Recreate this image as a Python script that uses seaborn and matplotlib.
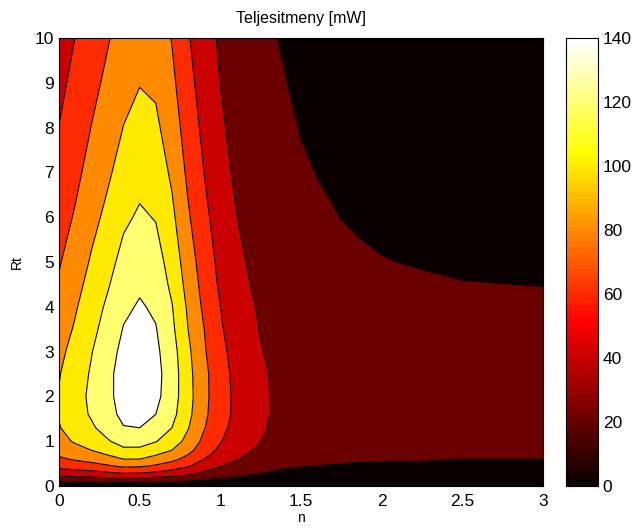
import numpy as np
import matplotlib
matplotlib.use("Agg")
import matplotlib.pyplot as plt
from matplotlib.colors import ListedColormap, Normalize
from matplotlib.cm import ScalarMappable
from matplotlib.ticker import FormatStrFormatter
import seaborn as sns

# grid: columns are n, rows are Rt
n_values = [0, 0.1, 0.2, 0.3, 0.4, 0.5, 0.6, 0.7, 0.8, 0.9, 1.0, 1.1,
            1.2, 1.35, 1.5, 1.6, 1.75, 1.85, 2.0, 2.25, 2.5, 3.0]
rt_values = [0, 0.1, 0.2, 0.3, 0.45, 0.6, 0.8, 1.0, 1.3, 1.6, 2.0,
             2.5, 3.0, 3.5, 4.0, 4.5, 5.0, 6.0, 7.0, 8.0, 9.0, 10.0]

# power [mW], one row per Rt value
power_mw = [
    [0] * 22,
    [20.6, 21.4, 21.9, 23.3, 24.7, 24.1, 22.4, 20.8, 18.6, 15.1, 12.6, 10.9, 9.2, 7.1, 6.5, 6.2, 5.9, 5.9, 5.8, 5.7, 5.7, 5.7],
    [37, 39, 40, 43, 45, 45, 41, 38, 34, 28, 23, 20, 17, 13, 12, 11, 11, 11, 10, 10, 10, 10],
    [50, 53, 55, 59, 63, 62, 58, 53, 47, 38, 31, 27, 23, 18, 16, 15, 14, 14, 14, 14, 14, 14],
    [66, 70, 73, 78, 84, 83, 78, 71, 62, 50, 41, 35, 30, 23, 21, 20, 19, 18, 18, 18, 18, 18],
    [77, 82, 87, 93, 100, 100, 93, 85, 74, 60, 49, 41, 35, 27, 24, 23, 22, 22, 21, 21, 20, 20],
    [87, 94, 100, 108, 116, 116, 109, 100, 86, 69, 56, 47, 40, 31, 28, 26, 25, 24, 24, 23, 23, 23],
    [94, 102, 109, 118, 128, 128, 121, 110, 94, 75, 61, 51, 43, 34, 30, 28, 27, 26, 25, 25, 24, 24],
    [99, 108, 117, 128, 139, 140, 133, 120, 101, 81, 65, 54, 46, 36, 32, 30, 28, 27, 27, 26, 26, 25],
    [101, 112, 122, 133, 145, 147, 140, 126, 105, 84, 67, 56, 47, 37, 33, 31, 29, 28, 27, 26, 26, 26],
    [101, 112, 124, 135, 148, 152, 145, 129, 107, 85, 68, 56, 47, 37, 33, 31, 29, 28, 27, 26, 26, 25],
    [99, 110, 122, 135, 148, 152, 146, 130, 106, 85, 67, 55, 46, 37, 32, 30, 28, 27, 26, 25, 25, 24],
    [95, 107, 119, 132, 145, 150, 144, 128, 104, 82, 65, 53, 44, 35, 31, 29, 27, 26, 25, 24, 24, 23],
    [91, 102, 115, 127, 141, 146, 141, 124, 100, 80, 62, 51, 42, 34, 29, 27, 25, 25, 24, 23, 22, 22],
    [87, 98, 111, 123, 136, 142, 137, 121, 97, 76, 60, 48, 41, 33, 28, 26, 24, 23, 22, 22, 21, 21],
    [82, 94, 106, 118, 131, 137, 132, 116, 93, 73, 57, 46, 39, 31, 27, 25, 23, 22, 21, 21, 20.2, 19.9],
    [78.5, 89.4, 102.0, 113.5, 126.0, 131.9, 127.8, 112.2, 89.3, 70.4, 54.9, 44.1, 37.0, 29.8, 25.4, 23.7, 21.9, 21.1, 20.3, 19.5, 19.1, 18.9],
    [71.6, 81.8, 93.9, 104.7, 116.5, 122.6, 119.0, 104.2, 82.3, 64.8, 50.3, 40.3, 33.8, 27.3, 23.2, 21.6, 19.9, 19.2, 18.4, 17.7, 17.3, 17.1],
    [65.5, 75.2, 86.7, 96.8, 108.0, 114.0, 110.9, 96.8, 76.1, 59.8, 46.3, 37.0, 31.0, 25.1, 21.2, 19.8, 18.2, 17.5, 16.8, 16.1, 15.8, 15.6],
    [60.3, 69.4, 80.3, 89.9, 100.4, 106.2, 103.6, 90.2, 70.6, 55.4, 42.8, 34.1, 28.6, 23.2, 19.6, 18.2, 16.7, 16.1, 15.4, 14.8, 14.5, 14.3],
    [55.9, 64.4, 74.7, 83.8, 93.7, 99.3, 97.0, 84.3, 65.7, 51.6, 39.8, 31.7, 26.5, 21.5, 18.1, 16.9, 15.5, 14.9, 14.2, 13.6, 13.4, 13.2],
    [52.0, 60.1, 69.8, 78.4, 87.7, 93.2, 91.1, 79.1, 61.5, 48.2, 37.1, 29.5, 24.7, 20.1, 16.9, 15.7, 14.4, 13.9, 13.2, 12.7, 12.4, 12.2],
]

levels = [0, 20, 40, 60, 80, 100, 120, 140]

sns.set_style("white")
plt.rcParams['font.family'] = ['Liberation Sans', 'DejaVu Sans']
plt.rcParams['axes.edgecolor'] = 'black'
plt.rcParams['xtick.color'] = 'black'
plt.rcParams['ytick.color'] = 'black'
plt.rcParams['text.color'] = 'black'
plt.rcParams['axes.labelcolor'] = 'black'

# MATLAB style hot(64) colormap
m, k = 64, 24
i = np.arange(1, m + 1)
hot64 = ListedColormap(np.column_stack([np.clip(i / k, 0, 1),
                                        np.clip((i - k) / k, 0, 1),
                                        np.clip((i - 2 * k) / (m - 2 * k), 0, 1)]))
# each band takes the colour of its lower level
band_colors = [hot64(min(int(L / 140 * m), m - 1)) for L in levels]

fig = plt.figure(figsize=(6.39, 5.29), dpi=100)
ax = fig.add_axes([59 / 639, 43 / 529, 484 / 639, 448 / 529])
ax.contourf(n_values, rt_values, power_mw, levels=levels + [160], colors=band_colors)
ax.contour(n_values, rt_values, power_mw, levels=levels[1:], colors='k', linewidths=0.8)
ax.set_xlim(0, 3)
ax.set_ylim(0, 10)
ax.set_xticks(np.arange(0, 3.01, 0.5))
ax.set_yticks(range(0, 11))
ax.xaxis.set_major_formatter(FormatStrFormatter('%g'))
ax.tick_params(direction='in', top=True, right=True, length=4, width=0.8, labelsize=12.5)
ax.tick_params(axis='x', pad=5.5)
for s in ax.spines.values():
    s.set_linewidth(0.8)
ax.set_xlabel('n', fontsize=10, labelpad=2)
ax.set_ylabel('Rt', fontsize=10, labelpad=7.5)
ax.set_title('Teljesitmeny [mW]', fontsize=11.5, pad=10.5)

cax = fig.add_axes([566 / 639, 43 / 529, 32 / 639, 448 / 529])
cb = fig.colorbar(ScalarMappable(norm=Normalize(0, 140), cmap=hot64), cax=cax, ticks=levels)
cb.outline.set_linewidth(0.8)
cax.tick_params(direction='in', left=True, right=True, length=4, width=0.8, labelsize=12.5)

fig.savefig('out.png', dpi=100)
plt.close()
